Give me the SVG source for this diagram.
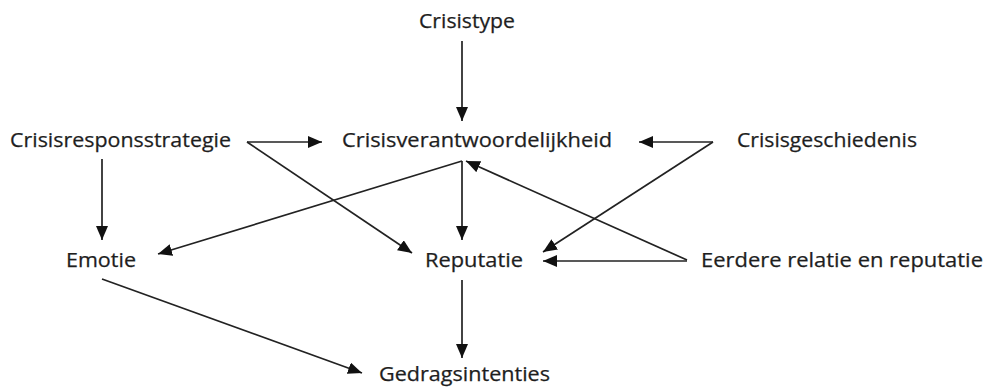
<svg xmlns="http://www.w3.org/2000/svg" width="987" height="387" viewBox="0 0 987 387">
<style>
.t{font-family:"Open Sans","Noto Sans","Liberation Sans",sans-serif;font-size:20px;fill:#1e1e1e;stroke:#1e1e1e;stroke-width:0.25}
.c line{stroke:#222;stroke-width:1.7;fill:none}
</style>
<defs>
<marker id="a" markerUnits="userSpaceOnUse" markerWidth="15" markerHeight="13" refX="14" refY="6" orient="auto">
<path d="M0,0 L14,6 L0,12 Z" fill="#111"/>
</marker>
</defs>
<rect width="987" height="387" fill="#fff"/>
<g class="c" id="connectors">
<line x1="462" y1="41" x2="462" y2="121" marker-end="url(#a)"/>
<line x1="247" y1="142" x2="322" y2="142" marker-end="url(#a)"/>
<line x1="247" y1="142" x2="412" y2="253" marker-end="url(#a)"/>
<line x1="102" y1="159" x2="102" y2="240" marker-end="url(#a)"/>
<line x1="462" y1="161" x2="158" y2="254" marker-end="url(#a)"/>
<line x1="462" y1="161" x2="462" y2="240" marker-end="url(#a)"/>
<line x1="687" y1="260" x2="466" y2="161" marker-end="url(#a)"/>
<line x1="687" y1="261" x2="543" y2="261" marker-end="url(#a)"/>
<line x1="713" y1="142" x2="639" y2="142" marker-end="url(#a)"/>
<line x1="713" y1="142" x2="543" y2="252" marker-end="url(#a)"/>
<line x1="462" y1="280" x2="462" y2="358" marker-end="url(#a)"/>
<line x1="102" y1="279" x2="362" y2="373" marker-end="url(#a)"/>
</g>
<g id="crisistype"><text class="t" x="419" y="28" textLength="96" lengthAdjust="spacingAndGlyphs">Crisistype</text></g>
<g id="crisisresponsstrategie"><text class="t" x="10" y="147" textLength="221" lengthAdjust="spacingAndGlyphs">Crisisresponsstrategie</text></g>
<g id="crisisverantwoordelijkheid"><text class="t" x="342" y="147" textLength="270" lengthAdjust="spacingAndGlyphs">Crisisverantwoordelijkheid</text></g>
<g id="crisisgeschiedenis"><text class="t" x="737" y="147" textLength="180" lengthAdjust="spacingAndGlyphs">Crisisgeschiedenis</text></g>
<g id="emotie"><text class="t" x="66" y="267" textLength="70" lengthAdjust="spacingAndGlyphs">Emotie</text></g>
<g id="reputatie"><text class="t" x="425" y="267" textLength="98" lengthAdjust="spacingAndGlyphs">Reputatie</text></g>
<g id="eerdere"><text class="t" x="701" y="267" textLength="282" lengthAdjust="spacingAndGlyphs">Eerdere relatie en reputatie</text></g>
<g id="gedragsintenties"><text class="t" x="379" y="381" textLength="171" lengthAdjust="spacingAndGlyphs">Gedragsintenties</text></g>
</svg>
